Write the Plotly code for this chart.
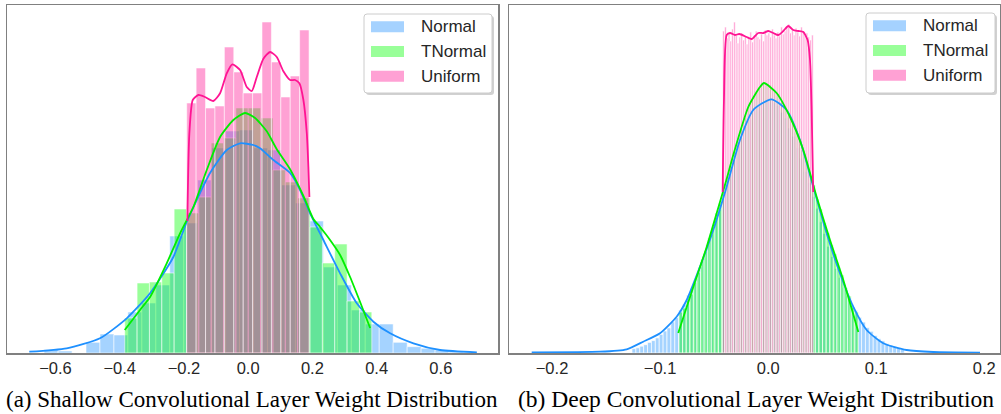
import plotly.graph_objects as go

W, H = 1001, 414

# ---------------- panel (a): shallow conv layer ----------------
a_normal_start = -0.6354
a_normal_width = 0.04348
a_normal_counts = [3.5, 2, 0, 10.7, 19, 18, 41, 50, 68, 117, 130, 173, 205, 222, 223,
                   205, 203, 168, 150, 132, 86, 68, 43, 29, 29, 10.7, 6.3, 4.7, 3, 1]
a_tnormal_start = -0.3844
a_tnormal_width = 0.03847
a_tnormal_counts = [35, 70, 71, 80, 144, 140, 156, 210, 215, 245, 245, 235, 183, 171, 155,
                    126, 90, 109, 52, 41]
a_uniform_start = -0.1913
a_uniform_width = 0.0293
a_uniform_counts = [250, 285, 245, 247, 306, 281, 260, 260, 331, 291, 256, 277, 323]

a_normal_kde_x = [-0.6816, -0.5651, -0.4614, -0.3782, -0.3056, -0.2330, -0.1913, -0.1187,
                  -0.0667, -0.0252, 0.0162, 0.0371, 0.0785, 0.1305, 0.1617, 0.1928, 0.2343,
                  0.2863, 0.3383, 0.3900, 0.4421, 0.5146, 0.5978, 0.7121]
a_normal_kde_y = [1.3, 4.7, 14.7, 34.7, 59.7, 96, 131, 180, 203, 209.7, 208, 204.7, 193, 180,
                  163, 139.7, 113, 79.7, 49.7, 31.3, 19.7, 9.7, 3, 0.7]
a_tnormal_kde_x = [-0.3844, -0.3368, -0.3056, -0.2536, -0.2121, -0.1707, -0.1290, -0.0875,
                   -0.0461, -0.0097, 0.0215, 0.0579, 0.0891, 0.1305, 0.1720, 0.2031, 0.2240,
                   0.2551, 0.2863, 0.3174, 0.3486, 0.3798]
a_tnormal_kde_y = [23, 43, 56, 89.7, 119.7, 146, 183, 216, 233, 240, 235, 221.7, 203.7, 183.7,
                   157, 134, 126, 113, 98, 76, 51, 25]
a_uniform_kde_x = [-0.1894, -0.1832, -0.1726, -0.1551, -0.1343, -0.1084, -0.0875, -0.0667,
                   -0.0492, -0.0252, -0.0044, 0.0112, 0.0268, 0.0474, 0.0682, 0.0891, 0.1097,
                   0.1305, 0.1461, 0.1595, 0.1720, 0.1826, 0.1875, 0.1907]
a_uniform_kde_y = [132, 219, 253, 258, 256, 252, 259.7, 279.7, 288.7, 283, 266, 262, 276, 294.3,
                   301, 296, 281.7, 273, 273, 269.7, 253, 219.7, 186, 156]

# ---------------- panel (b): deep conv layer ----------------
b_normal_start = -0.126
b_normal_width = 0.0036
b_normal_counts = [4.4, 5.2, 6.8, 8.3, 10.6, 12.4, 15.1, 18.6, 22.0, 25.1, 31.2, 35.4, 42.9,
                   48.6, 57.8, 65.1, 74.3, 86.0, 95.2, 108.1, 118.4, 132.5, 143.6, 157.8,
                   169.2, 182.9, 193.6, 206.3, 215.5, 226.8, 233.6, 241.9, 246.3, 251.7, 252.4,
                   253.1, 250.2, 247.6, 240.8, 234.9, 225.1, 216.8, 205.2, 194.9, 181.6, 170.4,
                   156.5, 144.8, 131.2, 119.6, 106.7, 96.5, 84.6, 75.6, 65.4, 57.6, 48.7, 42.5,
                   35.7, 30.9, 25.3, 21.7, 17.5, 14.2, 12.1, 9.4, 7.9, 6.1, 5.2, 3.6]
b_tnormal_start = -0.0825
b_tnormal_width = 0.00332
b_tnormal_counts = [41, 45, 53, 59, 71, 81, 93, 102, 115, 125, 140, 150, 163, 175, 188, 201,
                    211, 225, 235, 247, 253, 262, 265, 270, 268, 268, 262, 259, 251, 246, 237,
                    232, 221, 214, 203, 194, 179, 168, 154, 144, 130, 120, 108, 99, 86, 78, 65,
                    57, 46, 41]
b_uniform_start = -0.0421
b_uniform_width = 0.001676
b_uniform_counts = [322, 326, 315, 319, 312, 324, 331, 318, 310, 316, 320, 313, 317, 309, 315,
                    321, 311, 318, 322, 316, 314, 319, 312, 323, 318, 320, 316, 324, 318, 315,
                    321, 317, 326, 319, 322, 327, 329, 320, 323, 318, 325, 321, 317, 326, 322,
                    318, 320, 316, 313, 318]

b_normal_kde_x = [-0.2188, -0.1556, -0.1309, -0.1156, -0.1001, -0.0847, -0.0754, -0.0631,
                  -0.0508, -0.0384, -0.0261, -0.0138, 0.0030, 0.0171, 0.0294, 0.0417, 0.0541,
                  0.0664, 0.0787, 0.0911, 0.1065, 0.1281, 0.1528, 0.1960]
b_normal_kde_y = [0.7, 1.3, 3.7, 11.3, 19.7, 36.3, 53, 86.3, 123, 166.3, 213, 243, 253.7, 243,
                  213, 166.3, 119.7, 79.7, 46.3, 23, 9.7, 3, 1, 0.3]
b_tnormal_kde_x = [-0.0832, -0.0754, -0.0662, -0.0569, -0.0476, -0.0384, -0.0323, -0.0184,
                   -0.0076, -0.0039, 0.0078, 0.0202, 0.0325, 0.0449, 0.0572, 0.0695, 0.0834]
b_tnormal_kde_y = [20, 46, 76, 106, 140, 174, 198, 246, 266, 270, 260, 236, 203, 156, 113, 73, 21]
b_uniform_kde_x = [-0.0421, -0.0409, -0.0384, -0.0353, -0.0307, -0.0267, -0.0199, -0.0153,
                   -0.0092, -0.0045, 0.0001, 0.0047, 0.0093, 0.0140, 0.0186, 0.0232, 0.0279,
                   0.0325, 0.0365, 0.0387, 0.0402, 0.0417]
b_uniform_kde_y = [161, 253, 318, 320, 318, 319, 316, 314, 320, 320, 322, 320, 318, 322, 327,
                   323, 322, 321, 313, 293, 243, 161]

series_names = ["Normal", "TNormal", "Uniform"]
a_ticks = [-0.6, -0.4, -0.2, 0.0, 0.2, 0.4, 0.6]
b_ticks = [-0.2, -0.1, 0.0, 0.1, 0.2]
captions = ["(a) Shallow Convolutional Layer Weight Distribution",
            "(b) Deep Convolutional Layer Weight Distribution"]

# ---------------- styling ----------------
bar_colors = ["rgba(30,144,255,0.4)", "rgba(0,255,0,0.4)", "rgba(255,20,147,0.4)"]
swatch_colors = ["#a5d2ff", "#99ff99", "#ffa1d4"]
line_colors = ["#1e90ff", "#00ee00", "#ff1493"]


def centers(start, width, n):
    return [start + width * (i + 0.5) for i in range(n)]


fig = go.Figure()

panels = [
    ("x", "y", [(a_normal_start, a_normal_width, a_normal_counts),
                (a_tnormal_start, a_tnormal_width, a_tnormal_counts),
                (a_uniform_start, a_uniform_width, a_uniform_counts)],
     [(a_normal_kde_x, a_normal_kde_y), (a_tnormal_kde_x, a_tnormal_kde_y),
      (a_uniform_kde_x, a_uniform_kde_y)], 1.0, "rgba(255,255,255,0.55)"),
    ("x2", "y2", [(b_normal_start, b_normal_width, b_normal_counts),
                  (b_tnormal_start, b_tnormal_width, b_tnormal_counts),
                  (b_uniform_start, b_uniform_width, b_uniform_counts)],
     [(b_normal_kde_x, b_normal_kde_y), (b_tnormal_kde_x, b_tnormal_kde_y),
      (b_uniform_kde_x, b_uniform_kde_y)], 0.8, "rgba(255,255,255,0.85)"),
]

for xa, ya, hists, kdes, ew, edge in panels:
    for (start, width, counts), col, name in zip(hists, bar_colors, series_names):
        fig.add_trace(go.Bar(
            x=centers(start, width, len(counts)), y=counts, width=width, name=name,
            marker=dict(color=col, line=dict(color=edge, width=ew)),
            xaxis=xa, yaxis=ya, showlegend=False, hoverinfo="skip"))
    for (kx, ky), col in zip(kdes, line_colors):
        fig.add_trace(go.Scatter(
            x=kx, y=ky, mode="lines", line=dict(color=col, width=1.8, shape="spline", smoothing=0.6),
            xaxis=xa, yaxis=ya, showlegend=False, hoverinfo="skip"))


def px(x):
    return x / W


def py(y):
    return 1 - y / H


ydom = [py(353), py(5)]
tickfont = dict(family="Liberation Sans, Arial, sans-serif", size=16.5, color="#262626")
axis_common = dict(showgrid=False, zeroline=False, showline=True, mirror=True,
                   linecolor="#808080", linewidth=1.5, ticks="")

fig.update_layout(
    width=W, height=H, margin=dict(l=0, r=0, t=0, b=0),
    paper_bgcolor="white", plot_bgcolor="white",
    barmode="overlay", bargap=0,
    xaxis=dict(domain=[px(7), px(498)], range=[-0.751, 0.778], tickvals=a_ticks,
               tickformat=".1f", tickfont=tickfont, anchor="y", **axis_common),
    yaxis=dict(domain=ydom, range=[0, 348], showticklabels=False, anchor="x", **axis_common),
    xaxis2=dict(domain=[px(509), px(1000)], range=[-0.2398, 0.2145], tickvals=b_ticks,
                tickformat=".1f", tickfont=tickfont, anchor="y2", **axis_common),
    yaxis2=dict(domain=ydom, range=[0, 348], showticklabels=False, anchor="x2", **axis_common),
)

shapes = []
annotations = []


def rounded_path(x0, y0, x1, y1, r):
    pts = [
        f"M {px(x0 + r)} {py(y0)}", f"L {px(x1 - r)} {py(y0)}",
        f"Q {px(x1)} {py(y0)} {px(x1)} {py(y0 + r)}", f"L {px(x1)} {py(y1 - r)}",
        f"Q {px(x1)} {py(y1)} {px(x1 - r)} {py(y1)}", f"L {px(x0 + r)} {py(y1)}",
        f"Q {px(x0)} {py(y1)} {px(x0)} {py(y1 - r)}", f"L {px(x0)} {py(y0 + r)}",
        f"Q {px(x0)} {py(y0)} {px(x0 + r)} {py(y0)} Z",
    ]
    return " ".join(pts)


for (bx0, by0, bx1, by1) in [(364, 14, 492, 93), (866, 13, 995, 93)]:
    shapes.append(dict(type="path", xref="paper", yref="paper",
                       path=rounded_path(bx0 + 2, by0 + 2, bx1 + 2, by1 + 2, 3),
                       fillcolor="rgba(0,0,0,0.18)", line=dict(width=0)))
    shapes.append(dict(type="path", xref="paper", yref="paper",
                       path=rounded_path(bx0, by0, bx1, by1, 3),
                       fillcolor="white", line=dict(color="#cccccc", width=1)))
    for i, (name, sc) in enumerate(zip(series_names, swatch_colors)):
        cy = by0 + 12.7 + 24.8 * i
        shapes.append(dict(type="rect", xref="paper", yref="paper",
                           x0=px(bx0 + 7), x1=px(bx0 + 40), y0=py(cy - 5.5), y1=py(cy + 5.5),
                           fillcolor=sc, line=dict(width=0)))
        annotations.append(dict(text=name, xref="paper", yref="paper", x=px(bx0 + 55), y=py(cy),
                                xanchor="left", yanchor="middle", showarrow=False,
                                font=dict(family="Liberation Sans, Arial, sans-serif", size=17,
                                          color="#262626")))

for cap, cx, cs in zip(captions, [252, 756], [23, 23.5]):
    annotations.append(dict(text=cap, xref="paper", yref="paper", x=px(cx), y=py(399),
                            xanchor="center", yanchor="middle", showarrow=False,
                            font=dict(family="Liberation Serif, Times New Roman, serif", size=cs,
                                      color="black")))

fig.update_layout(shapes=shapes, annotations=annotations)
fig.write_html("out.html", config={"displayModeBar": False, "staticPlot": True},
               post_script="document.body.style.margin='0';document.body.style.padding='0';"
                           "document.body.style.overflow='hidden';")
